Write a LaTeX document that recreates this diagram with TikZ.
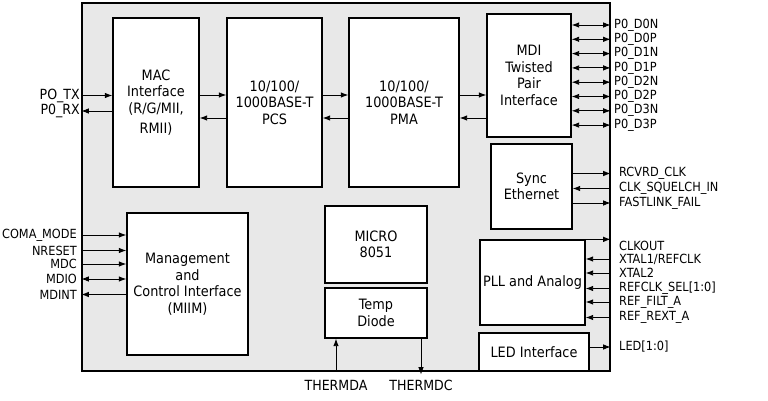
\documentclass[tikz,border=0pt]{standalone}
\usepackage{fontspec}
\setmainfont{DejaVu Sans Condensed}
\usetikzlibrary{arrows.meta}

\begin{document}
\begin{tikzpicture}[x=1pt, y=-1pt,
    blk/.style={draw, line width=1.3pt, fill=white, inner sep=0pt, align=center, font=\fontsize{14.3}{16.5}\selectfont},
    pin/.style={inner sep=0pt, font=\fontsize{12.6}{14}\selectfont},
    bigpin/.style={inner sep=0pt, font=\fontsize{14}{16}\selectfont},
    sig/.style={line width=0.9pt, -{Latex[length=7.5pt,width=5.5pt]}},
    bsig/.style={line width=0.9pt, {Latex[length=7.5pt,width=5.5pt]}-{Latex[length=7.5pt,width=5.5pt]}}]
    \useasboundingbox (0,0) rectangle (768,401);
    % chip outline
    \node[draw, line width=1.3pt, fill=black!9, minimum width=528pt, minimum height=368pt, inner sep=0pt] (chip) at (346,187) {};
    % blocks
    \node[blk, minimum width=86pt, minimum height=169pt] (mac) at (156,102.5) {MAC\\Interface\\(R/G/MII,\\[4pt]RMII)};
    \node[blk, minimum width=95pt, minimum height=169pt] (pcs) at (274.5,102.5) {10/100/\\1000BASE-T\\PCS};
    \node[blk, minimum width=110pt, minimum height=169pt] (pma) at (404,102.5) {10/100/\\1000BASE-T\\PMA};
    \node[blk, minimum width=84pt, minimum height=123pt] (mdi) at (529,75.5) {MDI\\Twisted\\Pair\\Interface};
    \node[blk, minimum width=81pt, minimum height=85pt] (sync) at (531.5,186.5) {Sync\\Ethernet};
    \node[blk, minimum width=121pt, minimum height=142pt] (mgmt) at (187.5,284) {Management\\and\\Control Interface\\(MIIM)};
    \node[blk, minimum width=102pt, minimum height=77pt] (micro) at (376,244.5) {MICRO\\8051};
    \node[blk, minimum width=102pt, minimum height=50pt] (temp) at (376,313) {Temp\\Diode};
    \node[blk, minimum width=105pt, minimum height=85pt] (pll) at (532.5,282.5) {PLL and Analog};
    \node[blk, minimum width=110pt, minimum height=38pt] (led) at (534,352) {LED Interface};

    % data path
    \coordinate (tx) at (0,95);
    \coordinate (rx) at (0,118);
    \draw[sig] (mac.east |- tx) -- (pcs.west |- tx);
    \draw[sig] (pcs.west |- rx) -- (mac.east |- rx);
    \draw[sig] (pcs.east |- tx) -- (pma.west |- tx);
    \draw[sig] (pma.west |- rx) -- (pcs.east |- rx);
    \draw[sig] (pma.east |- tx) -- (mdi.west |- tx);
    \draw[sig] (mdi.west |- rx) -- (pma.east |- rx);

    % MAC pins
    \node[bigpin, anchor=east] (ptx) at (80,95.5) {PO\_TX};
    \node[bigpin, anchor=east] (prx) at (80,111) {P0\_RX};
    \draw[sig] (chip.west |- ptx) -- (mac.west |- ptx);
    \draw[sig] (mac.west |- prx) -- (chip.west |- prx);

    % MDI pins
    \foreach \p [count=\i from 0] in {D0N,D0P,D1N,D1P,D2N,D2P,D3N,D3P} {
        \node[pin, anchor=west] (d\i) at (614,{25+14.3*\i}) {P0\_\p};
        \draw[bsig] (mdi.east |- d\i) -- (chip.east |- d\i);
    }

    % sync ethernet
    \node[pin, anchor=west] (rcv) at (619,173.5) {RCVRD\_CLK};
    \node[pin, anchor=west] (sql) at (619,188.5) {CLK\_SQUELCH\_IN};
    \node[pin, anchor=west] (flf) at (619,203) {FASTLINK\_FAIL};
    \draw[sig] (sync.east |- rcv) -- (chip.east |- rcv);
    \draw[sig] (chip.east |- sql) -- (sync.east |- sql);
    \draw[sig] (sync.east |- flf) -- (chip.east |- flf);

    % management pins
    \node[pin, anchor=east] (coma) at (77,235) {COMA\_MODE};
    \node[pin, anchor=east] (nrst) at (77,250.5) {NRESET};
    \node[pin, anchor=east] (mdc) at (77,264) {MDC};
    \node[pin, anchor=east] (mdio) at (77,279) {MDIO};
    \node[pin, anchor=east] (mdint) at (77,294.5) {MDINT};
    \draw[sig] (chip.west |- coma) -- (mgmt.west |- coma);
    \draw[sig] (chip.west |- nrst) -- (mgmt.west |- nrst);
    \draw[sig] (chip.west |- mdc) -- (mgmt.west |- mdc);
    \draw[bsig] (chip.west |- mdio) -- (mgmt.west |- mdio);
    \draw[sig] (mgmt.west |- mdint) -- (chip.west |- mdint);

    % PLL pins
    \node[pin, anchor=west] (clko) at (619,246) {CLKOUT};
    \node[pin, anchor=west] (xt1) at (619,259) {XTAL1/REFCLK};
    \node[pin, anchor=west] (xt2) at (619,273) {XTAL2};
    \node[pin, anchor=west] (rsel) at (619,288.5) {REFCLK\_SEL[1:0]};
    \node[pin, anchor=west] (rflt) at (619,302) {REF\_FILT\_A};
    \node[pin, anchor=west] (rext) at (619,317.5) {REF\_REXT\_A};
    \draw[sig] (pll.north east) -- (chip.east |- pll.north);
    \foreach \q in {xt1,xt2,rsel,rflt,rext}
        \draw[sig] (chip.east |- \q) -- (pll.east |- \q);

    % LED
    \node[pin, anchor=west] (ledp) at (619,347) {LED[1:0]};
    \draw[sig] (led.east |- ledp) -- (chip.east |- ledp);

    % temp diode
    \node[bigpin] (tda) at (336,385) {THERMDA};
    \node[bigpin] (tdc) at (421,385) {THERMDC};
    \draw[sig] (tda |- chip.south) -- (tda |- temp.south);
    \draw[sig] (tdc |- temp.south) -- ([yshift=-3pt]tdc |- chip.south);
\end{tikzpicture}
\end{document}
